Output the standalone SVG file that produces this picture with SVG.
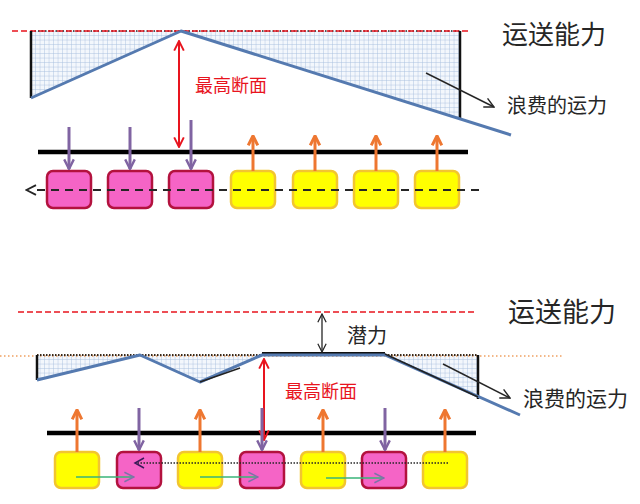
<svg xmlns="http://www.w3.org/2000/svg" width="640" height="504" viewBox="0 0 640 504">
<style>
.t{font-family:"Noto Sans CJK SC","Noto Sans",sans-serif;dominant-baseline:central}
.blk{fill:#262626}
.red{fill:#e8141e}
.pink{fill:#f564c6;stroke:#b3123e;stroke-width:2.5}
.yel{fill:#ffff00;stroke:#f2c530;stroke-width:2.5}
.purp{stroke:#8064a2;stroke-width:3;fill:none;marker-end:url(#mp)}
.orng{stroke:#ee7731;stroke-width:3;fill:none;marker-end:url(#mo)}
.blue{stroke:#557ab0;stroke-width:3;fill:none;stroke-linejoin:round}
.grn{stroke:#39b578;stroke-width:1.5;fill:none;marker-end:url(#mg)}
</style>
<defs>
<pattern id="grid" width="4.5" height="4.5" patternUnits="userSpaceOnUse"><rect width="4.5" height="4.5" fill="#f3f7fc"/><path d="M4.5 0V4.5M0 4.5H4.5" stroke="#a9c0df" stroke-width="0.9"/></pattern>
<marker id="mp" viewBox="0 0 10 10" refX="9" refY="5" markerWidth="4" markerHeight="4" orient="auto" markerUnits="strokeWidth"><path d="M1 1L9 5L1 9" fill="none" stroke="#8064a2" stroke-width="2"/></marker>
<marker id="mo" viewBox="0 0 10 10" refX="8" refY="5" markerWidth="4" markerHeight="4" orient="auto" markerUnits="strokeWidth"><path d="M1 1L9 5L1 9" fill="none" stroke="#ee7731" stroke-width="2.5"/></marker>
<marker id="mr" viewBox="0 0 10 10" refX="9" refY="5" markerWidth="6" markerHeight="6" orient="auto-start-reverse" markerUnits="strokeWidth"><path d="M1 1L9 5L1 9" fill="none" stroke="#e8141e" stroke-width="1.6"/></marker>
<marker id="mk" viewBox="0 0 10 10" refX="9" refY="5" markerWidth="8" markerHeight="8" orient="auto-start-reverse" markerUnits="strokeWidth"><path d="M1 1L9 5L1 9" fill="none" stroke="#262626" stroke-width="1.2"/></marker>
<marker id="mg" viewBox="0 0 10 10" refX="9" refY="5" markerWidth="8" markerHeight="8" orient="auto" markerUnits="strokeWidth"><path d="M1 1L9 5L1 9" fill="none" stroke="#7f72a8" stroke-width="1.3"/></marker>
<marker id="md" viewBox="0 0 10 10" refX="1" refY="5" markerWidth="6" markerHeight="6" orient="auto-start-reverse" markerUnits="strokeWidth"><path d="M1 1L9 5L1 9" fill="none" stroke="#262626" stroke-width="1.6"/></marker>
</defs>
<rect width="640" height="504" fill="#fff"/>

<g id="top-capacity">
<polygon points="31,31 460,31 460,118 181,31 31,98" fill="url(#grid)"/>
<line x1="31" y1="31" x2="461" y2="31" stroke="#222" stroke-width="1.5" stroke-dasharray="1.5,2"/>
<line x1="12" y1="31" x2="468" y2="31" stroke="#e8141e" stroke-width="1.5" stroke-dasharray="6,3"/>
<line x1="31" y1="31" x2="31" y2="98" stroke="#111" stroke-width="2.5"/>
<line x1="460" y1="31" x2="460" y2="118" stroke="#111" stroke-width="2.5"/>
<polyline class="blue" points="31,98 181,31 511,135"/>
</g>
<g id="top-labels">
<text class="t blk" x="502" y="32" font-size="26">运送能力</text>
<text class="t blk" x="507" y="104" font-size="20">浪费的运力</text>
<text class="t red" x="195" y="84" font-size="18">最高断面</text>
</g>

<g id="top-boxes">
<rect class="pink" x="47" y="171" width="44" height="37" rx="6"/>
<rect class="pink" x="108" y="171" width="44" height="37" rx="6"/>
<rect class="pink" x="169" y="171" width="44" height="37" rx="6"/>
<rect class="yel" x="231" y="171" width="44" height="37" rx="6"/>
<rect class="yel" x="293" y="171" width="44" height="37" rx="6"/>
<rect class="yel" x="354" y="171" width="44" height="37" rx="6"/>
<rect class="yel" x="415" y="171" width="44" height="37" rx="6"/>
</g>

<g id="top-connectors">
<line x1="38" y1="152" x2="468" y2="152" stroke="#000" stroke-width="4.5"/>
<line x1="479" y1="190" x2="36" y2="190" stroke="#262626" stroke-width="2" stroke-dasharray="8,6" marker-end="url(#md)"/>
<line x1="179" y1="41" x2="179" y2="147" stroke="#e8141e" stroke-width="2" marker-start="url(#mr)" marker-end="url(#mr)"/>
<line x1="426" y1="73" x2="494" y2="107" stroke="#262626" stroke-width="1.5" marker-end="url(#mk)"/>
<line class="purp" x1="69" y1="127" x2="69" y2="169"/>
<line class="purp" x1="130" y1="127" x2="130" y2="169"/>
<line class="purp" x1="191" y1="120" x2="191" y2="169"/>
<line class="orng" x1="253" y1="171" x2="253" y2="137"/>
<line class="orng" x1="315" y1="171" x2="315" y2="137"/>
<line class="orng" x1="376" y1="171" x2="376" y2="137"/>
<line class="orng" x1="437" y1="171" x2="437" y2="137"/>
</g>

<g id="bottom-capacity">
<polygon points="37,355 478,355 478,397 385,355 262,355 200,382 140,355 37,380" fill="url(#grid)"/>
<line x1="0" y1="356" x2="563" y2="356" stroke="#f0a060" stroke-width="1.5" stroke-dasharray="1.5,2.5"/>
<line x1="37" y1="355" x2="262" y2="355" stroke="#3a2a1a" stroke-width="1.8" stroke-dasharray="1.5,1.5"/>
<line x1="385" y1="355" x2="478" y2="355" stroke="#3a2a1a" stroke-width="1.8" stroke-dasharray="1.5,1.5"/>
<line x1="262" y1="353" x2="385" y2="353" stroke="#111" stroke-width="2"/>
<line x1="18" y1="312" x2="477" y2="312" stroke="#e8141e" stroke-width="1.5" stroke-dasharray="6,3"/>
<line x1="37" y1="355" x2="37" y2="380" stroke="#111" stroke-width="2.5"/>
<line x1="478" y1="355" x2="478" y2="399" stroke="#111" stroke-width="2.5"/>
<polyline class="blue" points="37,380 140,355 200,382 262,355 385,355 520,415"/>
<polyline points="200,382 240,368" fill="none" stroke="#222" stroke-width="1.5"/>
<polyline points="385,354 478,397" fill="none" stroke="#222" stroke-width="1.5"/>
</g>
<g id="bottom-labels">
<text class="t blk" x="508" y="310" font-size="27">运送能力</text>
<text class="t blk" x="347" y="334" font-size="20">潜力</text>
<text class="t blk" x="523" y="397" font-size="21">浪费的运力</text>
<text class="t red" x="285" y="390" font-size="18">最高断面</text>
</g>

<g id="bottom-boxes">
<rect class="yel" x="55" y="452" width="44" height="36" rx="6"/>
<rect class="pink" x="117" y="452" width="44" height="36" rx="6"/>
<rect class="yel" x="178" y="452" width="44" height="36" rx="6"/>
<rect class="pink" x="240" y="452" width="44" height="36" rx="6"/>
<rect class="yel" x="301" y="452" width="44" height="36" rx="6"/>
<rect class="pink" x="362" y="452" width="44" height="36" rx="6"/>
<rect class="yel" x="423" y="452" width="44" height="36" rx="6"/>
</g>

<g id="bottom-connectors">
<line x1="47" y1="433" x2="476" y2="433" stroke="#000" stroke-width="4.5"/>
<line x1="322" y1="314" x2="322" y2="352" stroke="#262626" stroke-width="1.3" marker-start="url(#mk)" marker-end="url(#mk)"/>
<line x1="443" y1="364" x2="510" y2="398" stroke="#262626" stroke-width="1.5" marker-end="url(#mk)"/>
<line x1="264" y1="359" x2="264" y2="440" stroke="#e8141e" stroke-width="2" marker-start="url(#mr)" marker-end="url(#mr)"/>
<line class="orng" x1="77" y1="452" x2="77" y2="411"/>
<line class="orng" x1="200" y1="452" x2="200" y2="411"/>
<line class="orng" x1="323" y1="452" x2="323" y2="411"/>
<line class="orng" x1="445" y1="452" x2="445" y2="411"/>
<line class="purp" x1="139" y1="408" x2="139" y2="450"/>
<line class="purp" x1="262" y1="408" x2="262" y2="450"/>
<line class="purp" x1="385" y1="408" x2="385" y2="450"/>
<line x1="448" y1="463" x2="136" y2="463" stroke="#262626" stroke-width="1.5" stroke-dasharray="1.5,1.5"/>
<polyline points="144,458 135,463 144,468" fill="none" stroke="#3a1a5a" stroke-width="1.5"/>
<line class="grn" x1="76" y1="477" x2="134" y2="477"/>
<line class="grn" x1="200" y1="477" x2="258" y2="477"/>
<line class="grn" x1="326" y1="478" x2="384" y2="478"/>
</g>
</svg>
